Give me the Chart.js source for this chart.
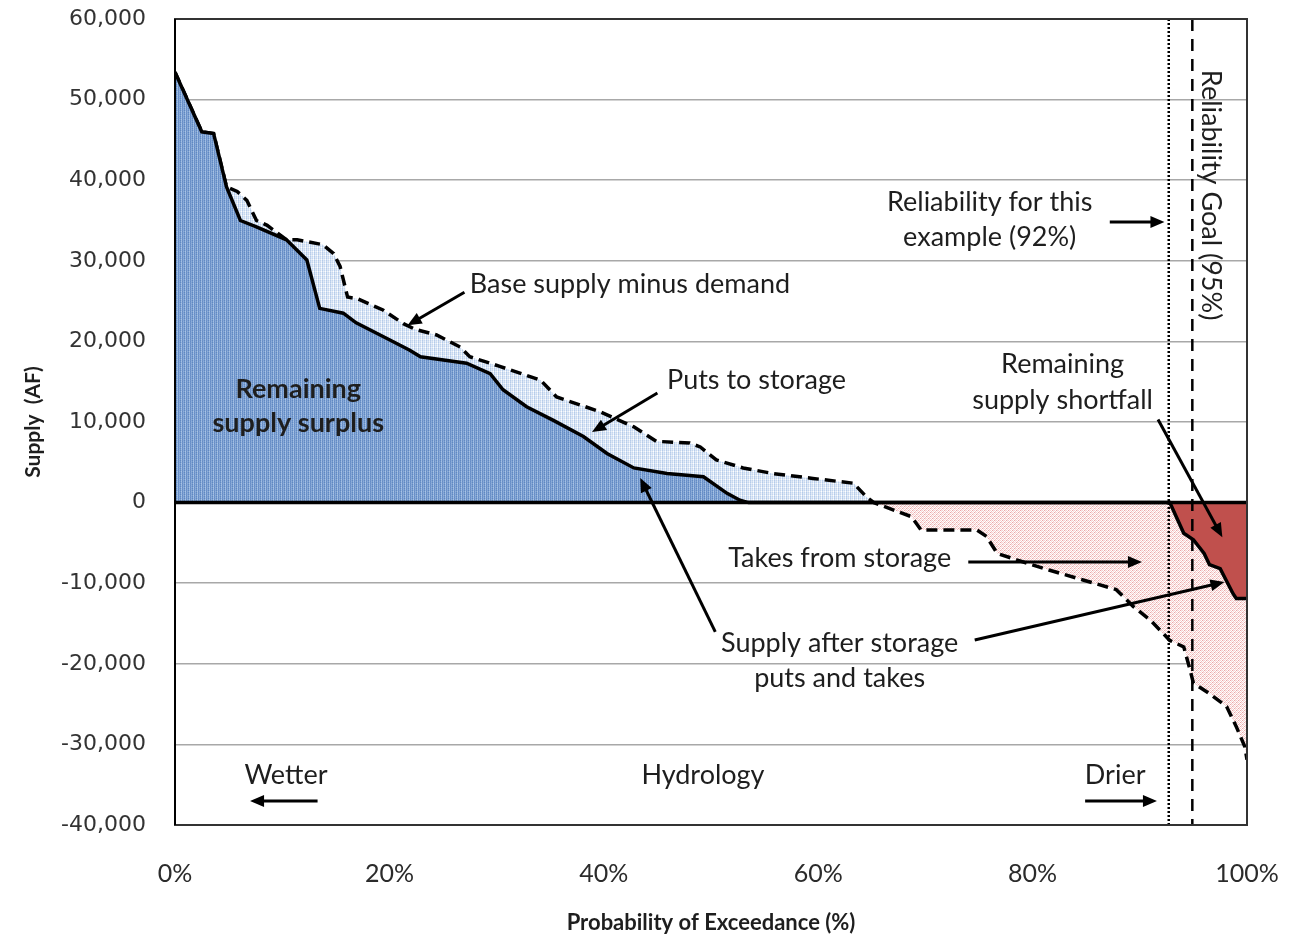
<!DOCTYPE html>
<html>
<head>
<meta charset="utf-8">
<script src="https://cdn.jsdelivr.net/npm/chart.js@4.4.1/dist/chart.umd.min.js"></script>
<style>
  html, body { margin: 0; padding: 0; background: #fff; }
  #wrap { width: 1304px; height: 941px; }
</style>
</head>
<body>
<div id="wrap"><canvas id="supplyChart" width="1304" height="941"></canvas></div>
<script>
// base supply minus demand (dashed)
var baseX = [0, 2.5, 3.6, 4.8, 5.8, 6.7, 7.6, 8.6, 10.4, 11.4, 13.8, 14.8, 15.4, 16.1, 17.0, 19.4, 21.3, 22.4, 24.4, 26.6, 27.5, 30.3, 34.1, 35.6, 39.6, 42.8, 44.9, 48.0, 49.0, 50.5, 53.0, 55.8, 59.5, 63.3, 64.5, 65.2, 67.4, 68.7, 69.6, 74.8, 75.7, 76.7, 78.5, 81.6, 84.7, 87.8, 89.4, 91.0, 92.8, 94.1, 94.7, 95.0, 96.5, 98.1, 99.0, 99.8, 100];
var baseY = [53400, 46000, 45800, 39200, 38600, 37500, 35000, 34400, 32600, 32600, 32000, 30900, 29300, 25500, 25300, 23900, 22200, 21500, 20800, 19300, 18100, 16900, 15200, 13100, 11300, 9400, 7600, 7400, 6900, 5300, 4300, 3600, 3000, 2400, 700, 0, -1100, -1750, -3400, -3400, -4200, -6300, -7100, -8400, -9600, -10800, -12900, -14600, -17100, -17900, -20800, -22400, -23700, -25300, -27800, -30300, -31900];

// supply after storage puts and takes (solid)
var afterX = [0, 2.5, 3.6, 4.8, 6.1, 7.6, 10.4, 12.3, 13.5, 15.7, 16.9, 20.0, 21.9, 22.9, 27.2, 29.4, 30.6, 32.8, 35.3, 38.1, 40.3, 42.8, 45.9, 49.3, 51.5, 52.7, 53.5, 92.8, 93.4, 94.1, 95.0, 96.0, 96.5, 97.5, 98.7, 99.0, 100];
var afterY = [53400, 46000, 45800, 39200, 35000, 34200, 32600, 30100, 24100, 23500, 22300, 20200, 18900, 18100, 17300, 16000, 14000, 11900, 10200, 8200, 6100, 4300, 3600, 3200, 1150, 300, 0, 0, -1750, -3800, -4600, -6300, -7700, -8200, -11300, -11900, -11900];

var xTicks = [0, 20, 40, 60, 80, 100];
var yTicks = [60000, 50000, 40000, 30000, 20000, 10000, 0, -10000, -20000, -30000, -40000];

var reliabilityExample = 92.7;
var reliabilityGoal = 94.9;

// text notes, placed in data units
var notes = [
  { text: 'Reliability for this', x: 76.0, y: 37300 },
  { text: 'example (92%)', x: 76.0, y: 32950 },
  { text: 'Base supply minus demand', x: 27.5, y: 27100, align: 'left' },
  { text: 'Remaining', x: 11.5, y: 14100, bold: true },
  { text: 'supply surplus', x: 11.5, y: 9850, bold: true },
  { text: 'Puts to storage', x: 45.9, y: 15200, align: 'left' },
  { text: 'Remaining', x: 82.8, y: 17100 },
  { text: 'supply shortfall', x: 82.8, y: 12730 },
  { text: 'Takes from storage', x: 51.6, y: -6900, align: 'left' },
  { text: 'Supply after storage', x: 62.0, y: -17420 },
  { text: 'puts and takes', x: 62.0, y: -21760 },
  { text: 'Wetter', x: 10.35, y: -33800 },
  { text: 'Hydrology', x: 49.25, y: -33800 },
  { text: 'Drier', x: 87.7, y: -33800 },
  { text: 'Reliability Goal (95%)', x: 96.6, y: 38150, rotate: true }
];

var arrows = [
  [87.2, 34800, 92.3, 34800],
  [27.0, 26100, 21.7, 22000],
  [45.0, 13600, 38.9, 8750],
  [91.7, 10300, 97.7, -4300],
  [74.0, -7370, 90.2, -7370],
  [74.6, -17050, 97.9, -9860],
  [50.4, -16050, 43.4, 3050],
  [13.3, -37030, 7.0, -37030],
  [84.9, -37030, 91.6, -37030]
];

function makePattern(rows) {
  var c = document.createElement('canvas');
  c.width = rows[0].length;
  c.height = rows.length;
  var g = c.getContext('2d');
  rows.forEach(function (r, j) {
    r.forEach(function (col, i) {
      g.fillStyle = col;
      g.fillRect(i, j, 1, 1);
    });
  });
  return g.createPattern(c, 'repeat');
}

var darkBlue = makePattern([
  ['#6088c2', '#98b6de', '#6d93ca', '#82a4d4'],
  ['#7098cc', '#a3bfe3', '#668dc6', '#8dadda'],
  ['#6088c2', '#90b0db', '#6d93ca', '#82a4d4'],
  ['#789ecf', '#aac4e5', '#668dc6', '#91b0da']
]);
var lightBlue = makePattern([
  ['#c4d6ee', '#e8f0fa', '#b5cbea', '#d9e5f5'],
  ['#d2e0f2', '#f2f6fc', '#c1d4ed', '#e2ebf7'],
  ['#c4d6ee', '#e8f0fa', '#b5cbea', '#d9e5f5'],
  ['#e0e9f6', '#ffffff', '#ccdcf0', '#edf3fa']
]);
var pink = makePattern([
  ['#f6d0d0', '#ffffff', '#eaa8a8', '#fbe6e6'],
  ['#ffffff', '#f3c4c4', '#ffffff', '#f8dada'],
  ['#eaa8a8', '#fbe6e6', '#f6d0d0', '#ffffff'],
  ['#ffffff', '#f8dada', '#ffffff', '#f3c4c4']
]);

function pts(xs, ys) {
  return xs.map(function (x, i) { return { x: x, y: ys[i] }; });
}

function arrowHead(ctx, x1, y1, x2, y2) {
  var a = Math.atan2(y2 - y1, x2 - x1);
  var len = 14, w = 6;
  ctx.beginPath();
  ctx.moveTo(x2, y2);
  ctx.lineTo(x2 - len * Math.cos(a) + w * Math.sin(a), y2 - len * Math.sin(a) - w * Math.cos(a));
  ctx.lineTo(x2 - len * Math.cos(a) - w * Math.sin(a), y2 - len * Math.sin(a) + w * Math.cos(a));
  ctx.closePath();
  ctx.fill();
}

var overlay = {
  id: 'overlay',
  afterDatasetsDraw: function (chart) {
    var ctx = chart.ctx, a = chart.chartArea;
    var xs = chart.scales.x, ys = chart.scales.y;
    ctx.save();
    // zero line
    var y0 = ys.getPixelForValue(0);
    ctx.strokeStyle = '#000';
    ctx.lineWidth = 3.5;
    ctx.beginPath();
    ctx.moveTo(a.left, y0);
    ctx.lineTo(a.right, y0);
    ctx.stroke();
    // reliability lines
    ctx.lineWidth = 2.5;
    ctx.setLineDash([2, 2]);
    var px = xs.getPixelForValue(reliabilityExample);
    ctx.beginPath(); ctx.moveTo(px, a.top); ctx.lineTo(px, a.bottom); ctx.stroke();
    ctx.setLineDash([12, 8]);
    px = xs.getPixelForValue(reliabilityGoal);
    ctx.beginPath(); ctx.moveTo(px, a.top); ctx.lineTo(px, a.bottom); ctx.stroke();
    ctx.setLineDash([]);
    // plot box
    ctx.lineWidth = 2;
    ctx.strokeStyle = '#333';
    ctx.strokeRect(a.left, a.top, a.right - a.left, a.bottom - a.top);
    ctx.strokeStyle = '#000';
    ctx.beginPath(); ctx.moveTo(a.left, a.top); ctx.lineTo(a.left, a.bottom); ctx.stroke();
    ctx.restore();
  },
  afterDraw: function (chart) {
    var ctx = chart.ctx;
    var xs = chart.scales.x, ys = chart.scales.y;
    ctx.save();
    ctx.fillStyle = '#1e1e1e';
    ctx.textBaseline = 'middle';
    notes.forEach(function (n) {
      var px = xs.getPixelForValue(n.x), py = ys.getPixelForValue(n.y);
      ctx.font = (n.bold ? 'bold ' : '') + '27px Lato';
      ctx.textAlign = n.align || 'center';
      if (n.rotate) {
        ctx.save();
        ctx.translate(px, py);
        ctx.rotate(Math.PI / 2);
        ctx.textAlign = 'center';
        ctx.fillText(n.text, 0, 0);
        ctx.restore();
      } else {
        ctx.fillText(n.text, px, py);
      }
    });
    ctx.strokeStyle = '#000';
    ctx.fillStyle = '#000';
    ctx.lineWidth = 3;
    arrows.forEach(function (r) {
      var x1 = xs.getPixelForValue(r[0]), y1 = ys.getPixelForValue(r[1]);
      var x2 = xs.getPixelForValue(r[2]), y2 = ys.getPixelForValue(r[3]);
      var ang = Math.atan2(y2 - y1, x2 - x1);
      ctx.beginPath();
      ctx.moveTo(x1, y1);
      ctx.lineTo(x2 - 10 * Math.cos(ang), y2 - 10 * Math.sin(ang));
      ctx.stroke();
      arrowHead(ctx, x1, y1, x2, y2);
    });
    ctx.restore();
  }
};

document.addEventListener('DOMContentLoaded', function () {
    var ctx = document.getElementById('supplyChart').getContext('2d');
    var chart = new Chart(ctx, {
        type: 'line',
        data: {
            datasets: [{
                label: 'Supply after storage puts and takes',
                data: pts(afterX, afterY),
                borderColor: '#000',
                borderWidth: 3.5,
                pointRadius: 0,
                tension: 0,
                fill: { target: 'origin', above: darkBlue, below: '#c0504d' }
            }, {
                label: 'Base supply minus demand',
                data: pts(baseX, baseY),
                borderColor: '#000',
                borderWidth: 3.5,
                borderDash: [11, 6],
                pointRadius: 0,
                tension: 0,
                fill: { target: 'origin', above: lightBlue, below: pink }
            }]
        },
        options: {
            responsive: false,
            animation: false,
            layout: { padding: { top: 19, right: 57, left: 0, bottom: 0 } },
            plugins: { legend: { display: false }, tooltip: { enabled: false } },
            scales: {
                x: {
                    type: 'linear',
                    min: 0,
                    max: 100,
                    afterBuildTicks: function (s) { s.ticks = xTicks.map(function (v) { return { value: v }; }); },
                    afterFit: function (s) { s.height = 116; },
                    ticks: {
                        padding: 0,
                        color: '#2b2b2b',
                        font: { family: 'Lato', size: 25 },
                        callback: function (v) { return v + '%'; }
                    },
                    grid: { color: 'transparent', drawOnChartArea: false, drawTicks: true, tickLength: 34, tickColor: 'transparent' },
                    border: { display: false },
                    title: {
                        display: true,
                        text: 'Probability of Exceedance (%)',
                        color: '#1e1e1e',
                        font: { family: 'Lato', size: 22, weight: 'bold' },
                        padding: { top: 0, bottom: 5 }
                    }
                },
                y: {
                    min: -40000,
                    max: 60000,
                    afterBuildTicks: function (s) { s.ticks = yTicks.map(function (v) { return { value: v }; }); },
                    afterFit: function (s) { s.width = 175; },
                    ticks: {
                        padding: 0,
                        color: '#333',
                        font: { family: 'DejaVu Sans', size: 22 },
                        callback: function (v) { return v.toLocaleString('en-US'); }
                    },
                    grid: { color: '#a8a8a8', lineWidth: 1.5, drawTicks: true, tickLength: 29, tickColor: 'transparent' },
                    border: { display: false },
                    title: {
                        display: true,
                        text: 'Supply  (AF)',
                        color: '#1e1e1e',
                        font: { family: 'Lato', size: 21, weight: 'bold' },
                        padding: { top: 21, bottom: 0 }
                    }
                }
            }
        },
        plugins: [overlay]
    });
});
</script>
</body>
</html>
